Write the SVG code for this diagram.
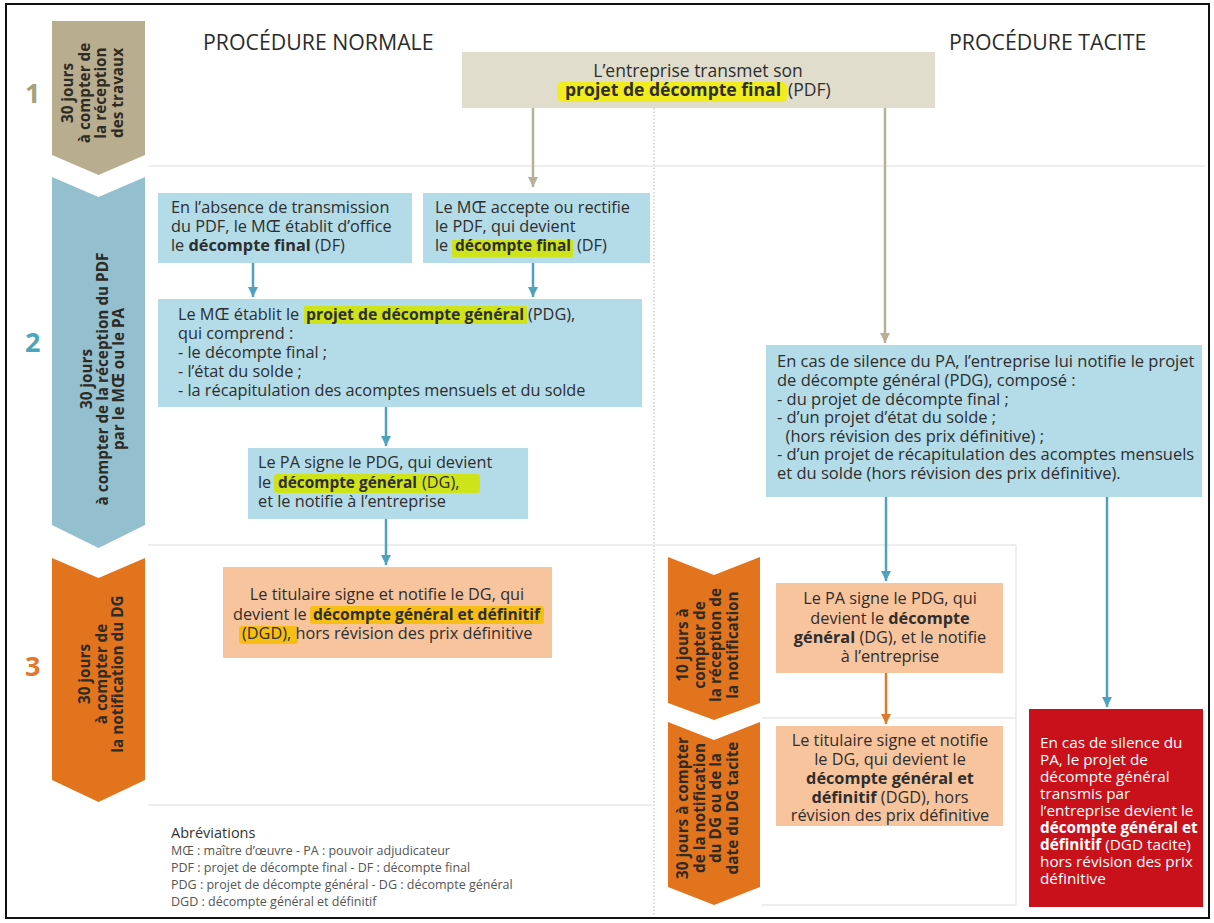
<svg xmlns="http://www.w3.org/2000/svg" width="1214" height="923" viewBox="0 0 1214 923">
<style>
text{font-family:"Open Sans","Liberation Sans",sans-serif;fill:#2e2e2e}
.t{font-size:16.3px}
.tf{font-size:16.5px}
.b{font-weight:700}
.hd{font-size:21.3px;fill:#2b2b2b}
.num{font-size:27px;font-weight:700}
.chv{font-size:15.3px;font-weight:700;fill:#2e2a24}
.ab{font-size:12.5px;fill:#555}
.lb{fill:#b3dbe8}
.lo{fill:#f8c49d}
.faint{stroke:#e8e8e8;stroke-width:1.5;fill:none}
.ck{stroke:#b7af96;stroke-width:2.5}
.cb{stroke:#4fa2bf;stroke-width:2.5}
.co{stroke:#df7a2c;stroke-width:2.5}
.hy{fill:#f1ec1f}
.hg{fill:#cfe31b}
.ho{fill:#f7bf16}
.w{fill:#ffffff;font-size:15.3px}
</style>
<defs>
<marker id="ak" markerUnits="userSpaceOnUse" markerWidth="12" markerHeight="10" refX="10" refY="5" orient="auto"><path d="M0,0 L10,5 L0,10 z" fill="#b7af96"/></marker>
<marker id="ab" markerUnits="userSpaceOnUse" markerWidth="12" markerHeight="10" refX="10" refY="5" orient="auto"><path d="M0,0 L10,5 L0,10 z" fill="#4fa2bf"/></marker>
<marker id="ao" markerUnits="userSpaceOnUse" markerWidth="12" markerHeight="10" refX="10" refY="5" orient="auto"><path d="M0,0 L10,5 L0,10 z" fill="#df7a2c"/></marker>
</defs>
<rect x="0" y="0" width="1214" height="923" fill="#ffffff"/>
<rect x="6" y="4" width="1203" height="914" fill="#ffffff" stroke="#111" stroke-width="2"/>

<g id="separators">
<line x1="654" y1="108" x2="654" y2="916" stroke="#b5b5b5" stroke-width="1" stroke-dasharray="1.5,2"/>
<line class="faint" x1="148" y1="166" x2="1205" y2="166"/>
<line class="faint" x1="148" y1="545" x2="1016" y2="545"/>
<line class="faint" x1="148" y1="805" x2="652" y2="805"/>
<line class="faint" x1="1016" y1="545" x2="1016" y2="905"/>
<line class="faint" x1="762" y1="718" x2="1016" y2="718"/>
<line class="faint" x1="762" y1="905" x2="1016" y2="905"/>
</g>

<g id="headers">
<text class="hd" x="203" y="50">PROCÉDURE NORMALE</text>
<text class="hd" x="949" y="50">PROCÉDURE TACITE</text>
</g>

<g id="stage1">
<text class="num" x="25" y="103" style="fill:#a5a27a">1</text>
<path d="M52,21 L145,21 L145,155 L98.5,175 L52,155 Z" fill="#b8ae8f"/>
<text class="chv" transform="translate(73,93) rotate(-90)" text-anchor="middle"><tspan x="0" dy="0">30 jours</tspan><tspan x="0" dy="16.7">à compter de</tspan><tspan x="0" dy="16.7">la  réception</tspan><tspan x="0" dy="16.7">des travaux</tspan></text>
</g>

<g id="stage2">
<text class="num" x="25" y="352" style="fill:#4aa6bd">2</text>
<path d="M52,177 L98.5,197 L145,177 L145,525 L98.5,548 L52,525 Z" fill="#93bfcf"/>
<text class="chv" transform="translate(92,379) rotate(-90)" text-anchor="middle"><tspan x="0" dy="0">30 jours</tspan><tspan x="0" dy="15.8">à compter de la réception du PDF</tspan><tspan x="0" dy="15.8">par le MŒ ou le PA</tspan></text>
</g>

<g id="stage3">
<text class="num" x="25" y="676" style="fill:#e2782c">3</text>
<path d="M52,558 L98.5,578 L145,558 L145,780 L98.5,802 L52,780 Z" fill="#e3741e"/>
<text class="chv" transform="translate(90,674) rotate(-90)" text-anchor="middle"><tspan x="0" dy="0">30 jours</tspan><tspan x="0" dy="16.5">à compter de</tspan><tspan x="0" dy="16.5">la notification du DG</tspan></text>
</g>

<g id="stage3a">
<path d="M668,557 L714,575 L760,557 L760,703 L714,720 L668,703 Z" fill="#e3741e"/>
<text class="chv" transform="translate(688,645) rotate(-90)" text-anchor="middle"><tspan x="0" dy="0">10 jours à</tspan><tspan x="0" dy="16.7">compter de</tspan><tspan x="0" dy="16.7">la réception de</tspan><tspan x="0" dy="16.7">la notification</tspan></text>
</g>

<g id="stage3b">
<path d="M668,722 L714,740 L760,722 L760,887 L714,905 L668,887 Z" fill="#e3741e"/>
<text class="chv" transform="translate(688,808) rotate(-90)" text-anchor="middle"><tspan x="0" dy="0">30 jours à compter</tspan><tspan x="0" dy="16.7">de la notification</tspan><tspan x="0" dy="16.7">du DG ou de la</tspan><tspan x="0" dy="16.7">date du DG tacite</tspan></text>
</g>

<g id="connectors">
<line class="ck" x1="533" y1="108" x2="533" y2="187" marker-end="url(#ak)"/>
<line class="ck" x1="885" y1="108" x2="885" y2="343" marker-end="url(#ak)"/>
<line class="cb" x1="253" y1="263" x2="253" y2="297" marker-end="url(#ab)"/>
<line class="cb" x1="533" y1="263" x2="533" y2="297" marker-end="url(#ab)"/>
<line class="cb" x1="386" y1="407" x2="386" y2="446" marker-end="url(#ab)"/>
<line class="cb" x1="386" y1="519" x2="386" y2="565" marker-end="url(#ab)"/>
<line class="cb" x1="886" y1="497" x2="886" y2="581" marker-end="url(#ab)"/>
<line class="cb" x1="1107" y1="497" x2="1107" y2="707" marker-end="url(#ab)"/>
<line class="co" x1="886" y1="673" x2="886" y2="724" marker-end="url(#ao)"/>
</g>

<g id="pdf">
<rect x="462" y="52" width="473" height="56" fill="#e1ddcd"/>
<rect class="hy" x="557" y="82" width="230" height="20" rx="5"/>
<text x="698" y="77" text-anchor="middle" style="font-size:17.5px">L’entreprise transmet son</text>
<text x="565" y="96" style="font-size:17.5px" class="b" textLength="216" lengthAdjust="spacingAndGlyphs">projet de décompte final</text>
<text x="788" y="96" style="font-size:17.5px">(PDF)</text>
</g>

<g id="absence">
<rect class="lb" x="158" y="193" width="254" height="70"/>
<text class="t" x="171" y="213">En l’absence de transmission</text>
<text class="t" x="171" y="232">du PDF, le MŒ établit d’office</text>
<text class="t" x="171" y="251">le <tspan class="b">décompte final</tspan> (DF)</text>
</g>

<g id="accepte">
<rect class="lb" x="423" y="193" width="227" height="70"/>
<rect class="hg" x="452" y="240" width="121" height="17"/>
<text class="t" x="435" y="213">Le MŒ accepte ou rectifie</text>
<text class="t" x="435" y="232">le PDF, qui devient</text>
<text class="t" x="435" y="251">le</text>
<text class="t b" x="455" y="251" textLength="116" lengthAdjust="spacingAndGlyphs">décompte final</text>
<text class="t" x="577" y="251">(DF)</text>
</g>

<g id="pdg">
<rect class="lb" x="158" y="299" width="484" height="108"/>
<rect class="hg" x="304" y="306" width="223" height="18"/>
<text class="t" x="178" y="320">Le MŒ établit le</text>
<text class="t b" x="306" y="320" textLength="218" lengthAdjust="spacingAndGlyphs">projet de décompte général</text>
<text class="t" x="528" y="320">(PDG),</text>
<text class="t" x="178" y="339">qui comprend :</text>
<text class="t" x="178" y="358">- le décompte final ;</text>
<text class="t" x="178" y="377">- l’état du solde ;</text>
<text class="t" x="178" y="396">- la récapitulation des acomptes mensuels et du solde</text>
</g>

<g id="dg">
<rect class="lb" x="248" y="448" width="280" height="71"/>
<rect class="hg" x="274" y="474" width="206" height="19" rx="3"/>
<text class="t" x="258" y="468">Le PA signe le PDG, qui devient</text>
<text class="t" x="258" y="488">le</text>
<text class="t b" x="278" y="488" textLength="139" lengthAdjust="spacingAndGlyphs">décompte général</text>
<text class="t" x="422" y="488">(DG),</text>
<text class="t" x="258" y="507">et le notifie à l’entreprise</text>
</g>

<g id="dgd">
<rect class="lo" x="223" y="567" width="329" height="91"/>
<rect class="ho" x="310" y="606" width="234" height="18" rx="3"/>
<rect class="ho" x="239" y="626" width="59" height="18" rx="3"/>
<text class="t" x="387" y="600" text-anchor="middle">Le titulaire signe et notifie le DG, qui</text>
<text class="t" x="233" y="620">devient le</text>
<text class="t b" x="313" y="620" textLength="227" lengthAdjust="spacingAndGlyphs">décompte général et définitif</text>
<text class="t" x="242" y="639">(DGD), hors révision des prix définitive</text>
</g>

<g id="abbrev">
<text x="171" y="838" style="font-size:14.5px;fill:#333">Abréviations</text>
<text class="ab" x="171" y="855">MŒ : maître d’œuvre  - PA : pouvoir adjudicateur</text>
<text class="ab" x="171" y="872">PDF : projet de décompte final - DF : décompte final</text>
<text class="ab" x="171" y="889">PDG : projet de décompte général - DG : décompte général</text>
<text class="ab" x="171" y="906">DGD : décompte général et définitif</text>
</g>

<g id="silence">
<rect class="lb" x="766" y="345" width="436" height="152"/>
<text class="tf" x="777" y="367">En cas de silence du PA, l’entreprise lui notifie le projet</text>
<text class="tf" x="777" y="386">de décompte général (PDG), composé :</text>
<text class="tf" x="777" y="405">- du projet de décompte final ;</text>
<text class="tf" x="777" y="423">- d’un projet d’état du solde ;</text>
<text class="tf" x="777" y="442" xml:space="preserve">  (hors révision des prix définitive) ;</text>
<text class="tf" x="777" y="460">- d’un projet de récapitulation des acomptes mensuels</text>
<text class="tf" x="777" y="479">et du solde (hors révision des prix définitive).</text>
</g>

<g id="pasigne">
<rect class="lo" x="776" y="583" width="227" height="90"/>
<text class="t" x="890" y="604" text-anchor="middle">Le PA signe le PDG, qui</text>
<text class="t" x="890" y="624" text-anchor="middle">devient le <tspan class="b">décompte</tspan></text>
<text class="t" x="890" y="643" text-anchor="middle"><tspan class="b">général</tspan> (DG), et le notifie</text>
<text class="t" x="890" y="662" text-anchor="middle">à l’entreprise</text>
</g>

<g id="titulaire">
<rect class="lo" x="776" y="726" width="227" height="100"/>
<text class="t" x="890" y="746" text-anchor="middle">Le titulaire signe et notifie</text>
<text class="t" x="890" y="765" text-anchor="middle">le DG, qui devient le</text>
<text class="t b" x="890" y="784" text-anchor="middle">décompte général et</text>
<text class="t" x="890" y="803" text-anchor="middle"><tspan class="b">définitif</tspan> (DGD), hors</text>
<text class="t" x="890" y="821" text-anchor="middle">révision des prix définitive</text>
</g>

<g id="tacite">
<rect x="1029" y="709" width="174" height="198" fill="#c8111b"/>
<text class="w" x="1040" y="748">En cas de silence du</text>
<text class="w" x="1040" y="765">PA, le projet de</text>
<text class="w" x="1040" y="782">décompte général</text>
<text class="w" x="1040" y="799">transmis par</text>
<text class="w" x="1040" y="816">l’entreprise devient le</text>
<text class="w b" x="1040" y="833">décompte général et</text>
<text class="w" x="1040" y="850"><tspan class="b">définitif</tspan> (DGD tacite)</text>
<text class="w" x="1040" y="867">hors révision des prix</text>
<text class="w" x="1040" y="884">définitive</text>
</g>
</svg>
